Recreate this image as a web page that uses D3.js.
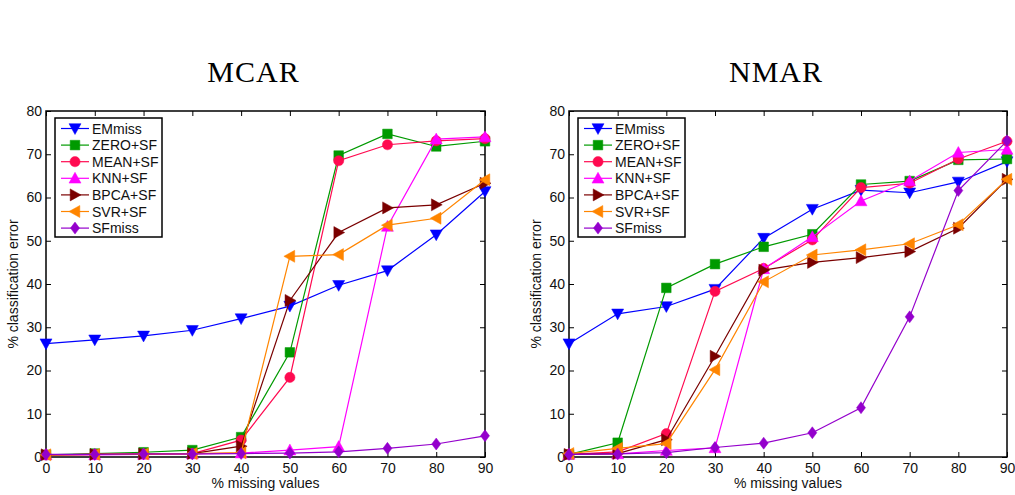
<!DOCTYPE html>
<html><head><meta charset="utf-8">
<script src="https://cdn.jsdelivr.net/npm/d3@7"></script>
<style>body{margin:0;background:#fff}svg{display:block}</style>
</head><body><svg id="c" width="1015" height="495"></svg>
<script>
const missing = [0,10,20,30,40,50,60,70,80,90];
const xTicks = [0,10,20,30,40,50,60,70,80,90];
const yTicks = [0,10,20,30,40,50,60,70,80];
const methods = ["EMmiss","ZERO+SF","MEAN+SF","KNN+SF","BPCA+SF","SVR+SF","SFmiss"];
const panelTitles = ["MCAR","NMAR"];

// MCAR
const mcarEMmiss = [26.2,27.1,28.0,29.3,32.0,34.9,39.7,43.1,51.4,61.4];
const mcarZERO   = [0.5,0.8,1.1,1.6,4.6,24.2,69.7,74.7,71.8,73.0];
const mcarMEAN   = [0.5,0.6,0.7,0.8,3.9,18.4,68.5,72.2,73.1,73.6];
const mcarKNN    = [0.5,0.5,0.6,0.7,0.9,1.6,2.4,53.3,73.5,74.0];
const mcarBPCA   = [0.5,0.6,0.7,0.8,2.5,36.2,51.9,57.6,58.3,63.3];
const mcarSVR    = [0.5,0.6,0.7,0.8,1.0,46.4,46.8,53.6,55.2,64.1];
const mcarSFmiss = [0.6,0.6,0.7,0.7,0.8,0.9,1.2,2.0,3.0,4.9];

// NMAR
const nmarEMmiss = [26.2,33.1,34.8,38.8,50.6,57.3,61.7,61.1,63.6,68.3];
const nmarZERO   = [0.6,3.3,39.1,44.6,48.6,51.5,63.0,63.8,68.7,68.9];
const nmarMEAN   = [0.6,1.2,5.4,38.3,43.6,50.2,62.3,63.3,68.9,73.0];
const nmarKNN    = [0.6,0.7,1.5,2.1,43.5,50.9,59.2,63.8,70.4,71.1];
const nmarBPCA   = [0.6,0.8,4.0,23.3,43.2,45.0,46.1,47.5,52.9,64.2];
const nmarSVR    = [0.8,2.0,3.1,20.2,40.5,46.7,47.9,49.3,53.7,64.2];
const nmarSFmiss = [0.6,0.7,1.0,2.2,3.2,5.6,11.4,32.4,61.6,73.1];

const colors = ["#0000ff","#009a00","#ff0a50","#ff00ff","#7a0000","#ff8500","#9400cc"];
const shapes = ["down","square","circle","up","right","left","diamond"];

const panels = [
  {title: panelTitles[0], series:[mcarEMmiss,mcarZERO,mcarMEAN,mcarKNN,mcarBPCA,mcarSVR,mcarSFmiss], x0:46, x1:485},
  {title: panelTitles[1], series:[nmarEMmiss,nmarZERO,nmarMEAN,nmarKNN,nmarBPCA,nmarSVR,nmarSFmiss], x0:569, x1:1007}
];

const svg = d3.select("#c");
const yTop = 111, yBot = 457;
const tickFont = "Liberation Sans, Arial, sans-serif";

function markerPath(shape, s){
  const r = s/2;
  switch(shape){
    case "down": return `M${-r},${-r*0.8}L${r},${-r*0.8}L0,${r}Z`;
    case "up": return `M${-r},${r*0.8}L${r},${r*0.8}L0,${-r}Z`;
    case "right": return `M${-r*0.8},${-r}L${-r*0.8},${r}L${r},0Z`;
    case "left": return `M${r*0.8},${-r}L${r*0.8},${r}L${-r},0Z`;
    case "square": { const q=r*0.8; return `M${-q},${-q}H${q}V${q}H${-q}Z`; }
    case "diamond": return `M0,${-r}L${r*0.75},0L0,${r}L${-r*0.75},0Z`;
    case "circle": { const c=r*0.85; return `M${c},0A${c},${c} 0 1,1 ${-c},0A${c},${c} 0 1,1 ${c},0Z`; }
  }
}

panels.forEach(p=>{
  const x = d3.scaleLinear().domain([0,90]).range([p.x0,p.x1]);
  const y = d3.scaleLinear().domain([0,80]).range([yBot,yTop]);
  const g = svg.append("g");

  // title
  g.append("text").attr("x",(p.x0+p.x1)/2 - 12).attr("y",82).attr("text-anchor","middle")
    .attr("font-family","Liberation Serif, Times New Roman, serif").attr("font-size",30)
    .attr("letter-spacing",1).text(p.title);

  // axes (inner ticks) bottom/left with labels
  const ax = g.append("g").attr("transform",`translate(0,${yBot})`)
    .call(d3.axisBottom(x).tickValues(xTicks).tickSize(-5).tickPadding(6).tickFormat(d3.format("d")));
  const ay = g.append("g").attr("transform",`translate(${p.x0},0)`)
    .call(d3.axisLeft(y).tickValues(yTicks).tickSize(-5).tickPadding(4).tickFormat(d3.format("d")));
  const at = g.append("g").attr("transform",`translate(0,${yTop})`)
    .call(d3.axisTop(x).tickValues(xTicks).tickSize(-5).tickFormat(""));
  const ar = g.append("g").attr("transform",`translate(${p.x1},0)`)
    .call(d3.axisRight(y).tickValues(yTicks).tickSize(-5).tickFormat(""));
  [ax,ay,at,ar].forEach(a=>{
    a.select(".domain").remove();
    a.selectAll("line").attr("stroke","#000").attr("stroke-width",1);
    a.selectAll("text").attr("font-family",tickFont).attr("font-size",14).attr("fill","#111");
  });
  g.append("rect").attr("x",p.x0).attr("y",yTop).attr("width",p.x1-p.x0).attr("height",yBot-yTop)
    .attr("fill","none").attr("stroke","#000").attr("stroke-width",1.5);

  // axis labels
  g.append("text").attr("x",(p.x0+p.x1)/2).attr("y",488).attr("text-anchor","middle")
    .attr("font-family",tickFont).attr("font-size",14).attr("fill","#111").text("% missing values");
  g.append("text").attr("transform",`translate(${p.x0-28},${(yTop+yBot)/2}) rotate(-90)`)
    .attr("text-anchor","middle").attr("font-family",tickFont).attr("font-size",14).attr("fill","#111")
    .text("% classification error");

  // series
  const line = d3.line().x((d,i)=>x(missing[i])).y(d=>y(d));
  p.series.forEach((s,k)=>{
    const sg = g.append("g");
    sg.append("path").datum(s).attr("d",line).attr("fill","none")
      .attr("stroke",colors[k]).attr("stroke-width",1.2);
    sg.selectAll("path.m").data(s).enter().append("path").attr("class","m")
      .attr("transform",(d,i)=>`translate(${x(missing[i])},${y(d)})`)
      .attr("d",markerPath(shapes[k],12)).attr("fill",colors[k]).attr("stroke",colors[k]).attr("stroke-width",0.5);
  });

  // legend
  const lx = p.x0+9, ly = 118, lw = 107, lh = 119;
  const lg = g.append("g");
  lg.append("rect").attr("x",lx).attr("y",ly).attr("width",lw).attr("height",lh)
    .attr("fill","#fff").attr("stroke","#000").attr("stroke-width",1.5);
  methods.forEach((m,k)=>{
    const cy = ly+10.5+k*16.6;
    lg.append("line").attr("x1",lx+6).attr("x2",lx+34).attr("y1",cy).attr("y2",cy)
      .attr("stroke",colors[k]).attr("stroke-width",1.2);
    lg.append("path").attr("transform",`translate(${lx+20},${cy})`).attr("d",markerPath(shapes[k],12))
      .attr("fill",colors[k]).attr("stroke",colors[k]).attr("stroke-width",0.5);
    lg.append("text").attr("x",lx+37).attr("y",cy+5).attr("font-family",tickFont).attr("font-size",14)
      .attr("fill","#111").text(m);
  });
});
</script></body></html>
